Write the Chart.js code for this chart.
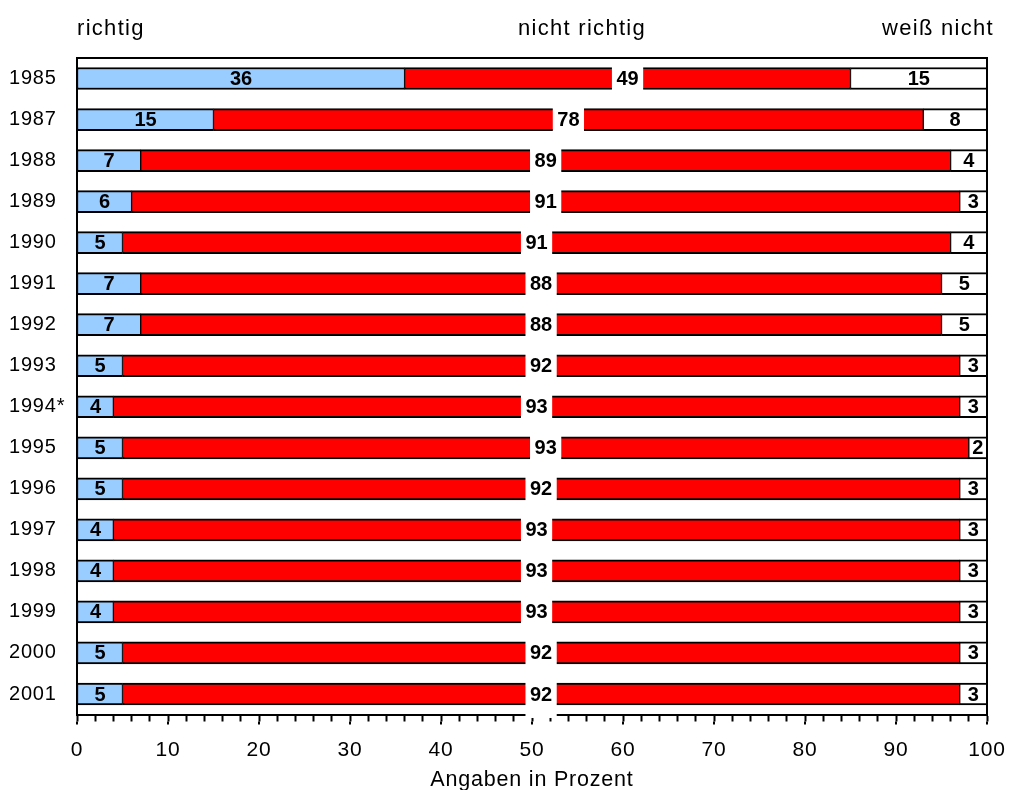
<!DOCTYPE html>
<html lang="de">
<head>
<meta charset="utf-8">
<title>Angaben in Prozent</title>
<script src="https://cdn.jsdelivr.net/npm/chart.js@4.4.1/dist/chart.umd.min.js"></script>
<style>
  html, body { margin: 0; padding: 0; background: #fff; }
  #wrap { width: 1012px; height: 790px; }
</style>
</head>
<body>
<div id="wrap"><canvas id="c" width="1012" height="790"></canvas></div>
<script>
// Survey years (rows, top to bottom)
const years = ['1985', '1987', '1988', '1989', '1990', '1991', '1992', '1993',
               '1994*', '1995', '1996', '1997', '1998', '1999', '2000', '2001'];

// Answer shares in percent
const richtig      = [36, 15, 7, 6, 5, 7, 7, 5, 4, 5, 5, 4, 4, 4, 5, 5];
const nichtRichtig = [49, 78, 89, 91, 91, 88, 88, 92, 93, 93, 92, 93, 93, 93, 92, 92];
const weissNicht   = [15, 8, 4, 3, 4, 5, 5, 3, 3, 2, 3, 3, 3, 3, 3, 3];

const seriesNames = ['richtig', 'nicht richtig', 'weiß nicht'];
const seriesColors = ['#99CCFF', '#FF0000', '#FFFFFF'];
const axisTitle = 'Angaben in Prozent';

const FONT = "'Liberation Sans', Arial, Helvetica, sans-serif";

const barBorder = { top: 2, bottom: 2, left: 1, right: 1 };

function makeSet(label, data, color) {
  return {
    label, data,
    backgroundColor: color,
    borderColor: '#000',
    borderWidth: barBorder,
    borderSkipped: false,
    barThickness: 22
  };
}

// Slightly wider letter spacing for the axis texts
const spacing = {
  id: 'spacing',
  beforeDraw(chart) { chart.ctx.letterSpacing = '0.8px'; }
};

// Value labels inside the bars; the middle series gets a white box that splits the bar
const valueLabels = {
  id: 'valueLabels',
  afterDatasetsDraw(chart) {
    const { ctx, chartArea } = chart;
    ctx.save();
    ctx.letterSpacing = '0px';
    ctx.font = 'bold 20px ' + FONT;
    ctx.textAlign = 'center';
    ctx.textBaseline = 'middle';
    chart.data.datasets.forEach((ds, di) => {
      const meta = chart.getDatasetMeta(di);
      meta.data.forEach((el, i) => {
        const p = el.getProps(['x', 'y', 'base'], true);
        const left = Math.max(Math.min(p.x, p.base), chartArea.left);
        const right = Math.min(Math.max(p.x, p.base), chartArea.right);
        const cx = (left + right) / 2;
        const txt = String(ds.data[i]);
        if (di === 1) {
          const w = ctx.measureText(txt).width + 9;
          ctx.fillStyle = '#fff';
          ctx.fillRect(cx - w / 2, p.y - 24, w, 48);
        }
        ctx.fillStyle = '#000';
        ctx.fillText(txt, cx, p.y + 1);
      });
    });
    ctx.restore();
  }
};

// Frame lines, longer tick marks at every 10 and the column headings
const frameAndHeads = {
  id: 'frameAndHeads',
  afterDraw(chart) {
    const { ctx, chartArea } = chart;
    const xs = chart.scales.x;
    ctx.save();
    ctx.strokeStyle = '#000';
    ctx.lineWidth = 2;
    ctx.beginPath();
    ctx.moveTo(chartArea.left, chartArea.bottom);
    ctx.lineTo(chartArea.left, chartArea.top);
    ctx.lineTo(chartArea.right, chartArea.top);
    ctx.lineTo(chartArea.right, chartArea.bottom);
    ctx.stroke();
    ctx.beginPath();
    for (let v = 0; v <= 100; v += 10) {
      const x = Math.round(xs.getPixelForValue(v));
      ctx.moveTo(x, chartArea.bottom + 7);
      ctx.lineTo(x, chartArea.bottom + 10);
    }
    ctx.stroke();

    ctx.fillStyle = '#000';
    ctx.font = '22px ' + FONT;
    ctx.letterSpacing = '1.3px';
    ctx.textBaseline = 'alphabetic';
    const y = 35;
    ctx.textAlign = 'left';
    ctx.fillText(seriesNames[0], chartArea.left, y);
    ctx.textAlign = 'center';
    ctx.fillText(seriesNames[1], 582, y);
    ctx.textAlign = 'right';
    ctx.fillText(seriesNames[2], 994, y);
    ctx.restore();
  }
};

new Chart(document.getElementById('c'), {
  type: 'bar',
  data: {
    labels: years,
    datasets: [
      makeSet(seriesNames[0], richtig, seriesColors[0]),
      makeSet(seriesNames[1], nichtRichtig, seriesColors[1]),
      makeSet(seriesNames[2], weissNicht, seriesColors[2])
    ]
  },
  options: {
    indexAxis: 'y',
    responsive: false,
    animation: false,
    devicePixelRatio: 1,
    layout: { padding: { top: 58, right: 25, left: 9, bottom: 0 } },
    plugins: { legend: { display: false }, tooltip: { enabled: false } },
    scales: {
      x: {
        stacked: true,
        min: 0, max: 100,
        afterFit(s) { s.height = 75.5; s.paddingLeft = 0; s.paddingRight = 0; },
        ticks: {
          stepSize: 2,
          autoSkip: false,
          maxRotation: 0,
          padding: 16,
          color: '#000',
          font: { family: FONT, size: 21 },
          callback: v => (v % 10 === 0 ? String(v) : '')
        },
        grid: {
          display: true,
          drawOnChartArea: false,
          drawTicks: true,
          tickLength: 7,
          tickWidth: 2,
          color: '#000'
        },
        border: { display: true, color: '#000', width: 2 },
        title: {
          display: true,
          text: axisTitle,
          color: '#000',
          font: { family: FONT, size: 21.5 },
          padding: { top: 0, bottom: -3 }
        }
      },
      y: {
        stacked: true,
        afterFit(s) { s.width = 68; },
        ticks: {
          crossAlign: 'far',
          padding: 10,
          color: '#000',
          font: { family: FONT, size: 20 }
        },
        grid: { display: false, drawTicks: false },
        border: { display: false }
      }
    }
  },
  plugins: [spacing, valueLabels, frameAndHeads]
});
</script>
</body>
</html>
